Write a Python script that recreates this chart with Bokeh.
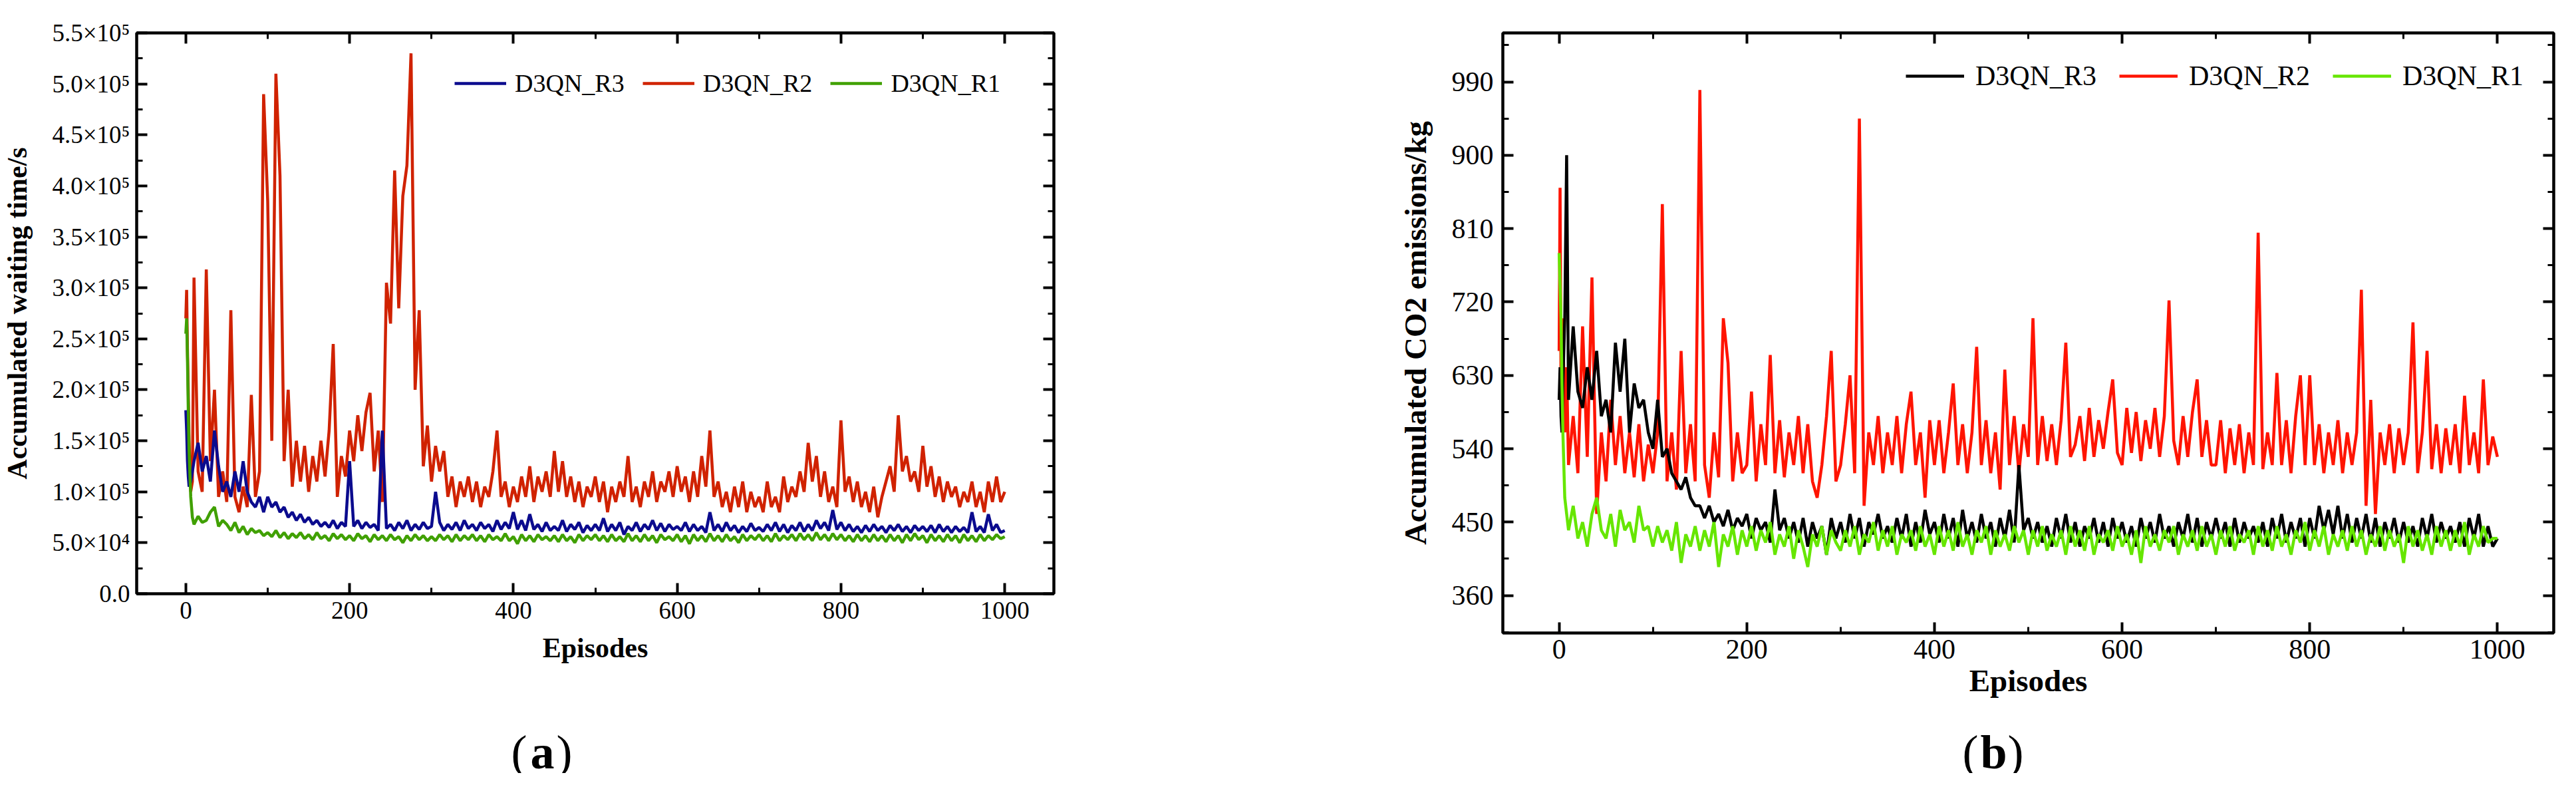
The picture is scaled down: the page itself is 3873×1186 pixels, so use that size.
import numpy as np
from bokeh.plotting import figure
from bokeh.layouts import row, column
from bokeh.models import (Range1d, LinearAxis, FixedTicker, Legend, LegendItem,
                          Label, CustomJSTickFormatter)
from bokeh.embed import file_html
from bokeh.resources import INLINE

FONT = "Liberation Serif"

# ---------------- data ----------------
episodes = [0, 1, 2, 3, 4, 6, 8, 10, 15, 20, 25, 30, 35, 40, 45] + list(range(50, 1001, 5))

# (a) accumulated waiting time, thousands of seconds
wait_r3_k = [180, 160, 130, 115, 105, 110, 120, 130, 148, 120, 135, 110, 160, 125, 100,
             110, 95, 120, 100, 130, 100, 90, 85, 95, 80,
             95, 85, 90, 80, 85, 75, 80, 72, 78, 70,
             75, 68, 72, 66, 70, 65, 72, 64, 70, 66,
             130, 66, 72, 64, 70, 65, 68, 62, 160, 64,
             68, 62, 70, 64, 72, 62, 68, 63, 70, 64,
             66, 100, 70, 62, 68, 63, 70, 62, 72, 64,
             68, 62, 70, 64, 68, 61, 72, 63, 70, 64,
             80, 63, 72, 62, 78, 63, 68, 61, 70, 62,
             66, 62, 72, 61, 68, 63, 70, 60, 67, 62,
             68, 62, 74, 61, 68, 62, 70, 58, 66, 62,
             70, 61, 68, 63, 72, 62, 69, 61, 68, 63,
             66, 62, 70, 61, 68, 62, 66, 60, 80, 62,
             68, 61, 70, 62, 67, 60, 66, 61, 69, 62,
             65, 61, 68, 62, 70, 61, 68, 60, 67, 62,
             70, 61, 68, 62, 72, 64, 70, 62, 82, 63,
             70, 62, 68, 61, 66, 60, 67, 61, 68, 62,
             66, 60, 67, 62, 68, 61, 66, 60, 67, 62,
             66, 61, 67, 60, 68, 61, 66, 60, 66, 61,
             65, 60, 80, 61, 66, 60, 78, 62, 68, 60,
             62]
wait_r2_k = [270, 298, 240, 200, 150, 100, 110, 310, 120, 100, 318, 130, 200, 95, 120,
             90, 278, 95, 80, 105, 85, 195, 95, 120, 490,
             385, 150, 510, 410, 130, 200, 105, 150, 110, 145,
             100, 135, 110, 150, 115, 160, 245, 95, 135, 115,
             160, 130, 175, 140, 178, 197, 120, 160, 90, 305,
             265, 415, 280, 390, 420, 530, 200, 278, 125, 165,
             110, 145, 120, 140, 95, 115, 85, 110, 95, 115,
             90, 110, 85, 105, 95, 120, 160, 95, 110, 85,
             105, 90, 115, 95, 125, 90, 115, 100, 120, 95,
             140, 100, 130, 95, 115, 90, 110, 85, 105, 95,
             115, 90, 110, 80, 105, 90, 110, 95, 135, 90,
             105, 85, 110, 95, 120, 90, 110, 100, 120, 95,
             125, 100, 115, 90, 120, 95, 135, 105, 160, 95,
             110, 85, 100, 80, 105, 85, 110, 80, 100, 85,
             95, 80, 110, 85, 95, 80, 115, 90, 105, 95,
             120, 100, 148, 110, 135, 95, 120, 90, 105, 85,
             170, 100, 115, 90, 110, 85, 100, 80, 105, 75,
             95, 110, 125, 100, 175, 120, 135, 110, 120, 100,
             145, 105, 125, 95, 115, 90, 110, 95, 105, 85,
             100, 90, 110, 85, 100, 80, 110, 90, 115, 90,
             100]
wait_r1_k = [255, 270, 230, 180, 140, 95, 75, 68, 76, 70, 72, 80, 85, 66, 72,
             68, 62, 70, 60, 66, 58, 64, 60, 62, 57,
             60, 56, 62, 55, 60, 54, 59, 55, 60, 54,
             58, 53, 60, 54, 57, 52, 59, 54, 58, 53,
             57, 52, 59, 54, 57, 51, 58, 53, 57, 52,
             58, 53, 56, 50, 57, 52, 58, 53, 57, 52,
             56, 52, 58, 53, 57, 51, 58, 52, 57, 53,
             58, 52, 57, 51, 58, 53, 56, 52, 59, 52,
             56, 49, 58, 52, 57, 51, 58, 53, 56, 52,
             57, 51, 58, 52, 56, 50, 58, 52, 57, 53,
             58, 52, 57, 51, 58, 52, 56, 51, 59, 52,
             57, 51, 58, 52, 57, 50, 58, 53, 56, 52,
             58, 51, 57, 49, 58, 52, 57, 51, 59, 52,
             57, 51, 58, 52, 56, 50, 58, 52, 57, 53,
             58, 52, 57, 51, 59, 52, 57, 53, 58, 52,
             59, 53, 58, 52, 60, 53, 58, 52, 59, 53,
             58, 52, 57, 51, 58, 52, 57, 51, 58, 52,
             57, 51, 58, 52, 57, 50, 58, 52, 59, 53,
             57, 50, 58, 52, 57, 51, 58, 52, 57, 50,
             58, 52, 57, 51, 58, 52, 57, 53, 58, 54,
             56]

# (b) accumulated CO2 emissions, kg
co2_r3 = [600, 640, 580, 560, 620, 700, 900, 600, 690, 610, 590, 640, 600, 660, 580,
          600, 560, 670, 610, 675, 560, 620, 590, 600, 560,
          540, 600, 530, 540, 510, 500, 490, 505, 480, 470,
          470, 455, 470, 450, 460, 445, 465, 440, 455, 445,
          460, 430, 455, 440, 450, 425, 490, 440, 455, 430,
          450, 425, 455, 420, 450, 430, 445, 410, 455, 430,
          450, 425, 460, 430, 455, 420, 450, 435, 460, 430,
          445, 425, 455, 430, 460, 420, 450, 425, 465, 435,
          450, 425, 460, 430, 455, 420, 465, 430, 450, 425,
          460, 430, 450, 420, 455, 430, 465, 425, 520, 440,
          455, 430, 450, 425, 445, 420, 455, 430, 460, 425,
          450, 420, 445, 430, 455, 425, 450, 420, 455, 430,
          450, 425, 445, 420, 455, 430, 450, 425, 460, 430,
          445, 420, 450, 430, 460, 425, 455, 420, 450, 430,
          455, 430, 450, 420, 455, 425, 450, 430, 445, 425,
          450, 420, 455, 430, 460, 425, 450, 430, 455, 420,
          455, 430, 470, 440, 465, 435, 470, 430, 460, 425,
          455, 430, 460, 425, 455, 420, 450, 430, 455, 425,
          450, 425, 445, 420, 455, 430, 460, 425, 450, 430,
          445, 425, 450, 420, 455, 430, 460, 420, 445, 420,
          430]
co2_r2 = [660, 860, 620, 600, 700, 560, 640, 520, 580, 510, 690, 530, 750, 460, 560,
          500, 600, 520, 580, 510, 560, 505, 570, 500, 545,
          510, 560, 840, 500, 560, 490, 660, 510, 570, 500,
          980, 520, 480, 560, 505, 700, 645, 500, 560, 510,
          520, 610, 500, 570, 520, 655, 510, 575, 505, 560,
          520, 580, 510, 570, 500, 480, 520, 580, 660, 500,
          520, 570, 630, 510, 945, 470, 560, 520, 580, 510,
          560, 520, 580, 510, 570, 610, 520, 560, 480, 575,
          520, 575, 510, 560, 620, 520, 570, 510, 560, 665,
          520, 575, 510, 560, 490, 637, 520, 580, 510, 570,
          530, 700, 520, 580, 525, 570, 520, 575, 670, 530,
          545, 580, 525, 590, 530, 575, 540, 585, 625, 535,
          520, 590, 535, 585, 525, 575, 540, 590, 530, 580,
          722, 550, 520, 580, 530, 585, 625, 530, 575, 520,
          520, 575, 510, 565, 520, 570, 510, 560, 520, 805,
          515, 560, 520, 633, 520, 575, 510, 580, 630, 520,
          630, 520, 570, 510, 560, 520, 575, 510, 560, 520,
          560, 735, 470, 600, 460, 560, 520, 570, 510, 565,
          520, 560, 695, 510, 560, 660, 515, 570, 510, 565,
          520, 570, 510, 605, 520, 560, 510, 625, 520, 555,
          530]
co2_r1 = [780, 740, 700, 620, 560, 480, 460, 440, 470, 430, 450, 420, 460, 480, 440,
          430, 460, 420, 465, 440, 450, 425, 470, 440, 445,
          420, 445, 425, 440, 415, 450, 400, 435, 420, 445,
          415, 440, 420, 450, 395, 435, 420, 445, 410, 440,
          420, 445, 415, 440, 425, 450, 410, 435, 420, 445,
          405, 440, 420, 395, 435, 420, 445, 410, 440, 425,
          415, 440, 420, 445, 410, 435, 425, 450, 415, 440,
          420, 445, 410, 435, 425, 440, 415, 445, 420, 435,
          410, 445, 420, 440, 415, 450, 420, 435, 410, 440,
          425, 445, 410, 440, 420, 435, 415, 445, 425, 440,
          410, 440, 420, 445, 415, 435, 420, 440, 410, 445,
          420, 440, 415, 445, 410, 435, 425, 440, 415, 445,
          420, 435, 410, 440, 400, 445, 420, 435, 415, 440,
          425, 445, 410, 435, 420, 440, 415, 445, 420, 435,
          410, 440, 420, 445, 415, 435, 425, 440, 410, 445,
          420, 440, 415, 445, 420, 435, 410, 440, 425, 450,
          415, 440, 420, 445, 410, 435, 420, 440, 415, 445,
          420, 440, 410, 435, 420, 445, 415, 440, 420, 435,
          400, 445, 420, 440, 415, 435, 410, 445, 420, 440,
          415, 440, 420, 450, 410, 435, 420, 445, 425, 430,
          430]

labels = ["D3QN_R3", "D3QN_R2", "D3QN_R1"]
captions = ["a", "b"]
x_ticks = [0, 200, 400, 600, 800, 1000]
x_minor = [100, 300, 500, 700, 900]
wait_ticks = [0, 50000, 100000, 150000, 200000, 250000, 300000, 350000,
              400000, 450000, 500000, 550000]
wait_tick_labels = ["0.0", "5.0×10⁴", "1.0×10⁵", "1.5×10⁵", "2.0×10⁵", "2.5×10⁵",
                    "3.0×10⁵", "3.5×10⁵", "4.0×10⁵", "4.5×10⁵", "5.0×10⁵", "5.5×10⁵"]
wait_minor = [25000 + 50000 * i for i in range(11)]
co2_ticks = [360, 450, 540, 630, 720, 810, 900, 990]
co2_minor = [315, 405, 495, 585, 675, 765, 855, 945, 1035]

colors_a = ["#0B0B8E", "#D02200", "#40A000"]
colors_b = ["#000000", "#FF1400", "#66E600"]

W_A, W_B = 1692, 2165      # figure widths (a), (b)
TOP_H = 1062               # height of the chart row
CAP_H = 100                # height of the caption row


def trim(x, y):
    n = min(len(x), len(y))
    return np.array(x[:n], dtype=float), np.array(y[:n], dtype=float)


def tick_style(ax):
    ax.axis_line_width = 4
    ax.major_tick_line_width = 4
    ax.minor_tick_line_width = 3
    ax.major_tick_in = 16
    ax.major_tick_out = 0
    ax.minor_tick_in = 9
    ax.minor_tick_out = 0


def style(p, yt, ym, tick_size, label_size, ylabel_standoff, xlabel_standoff,
          xtick_standoff, ytick_standoff):
    p.xgrid.visible = False
    p.ygrid.visible = False
    p.outline_line_color = "black"
    p.outline_line_width = 4
    p.background_fill_color = "white"
    p.border_fill_color = "white"
    xa, ya = p.xaxis[0], p.yaxis[0]
    xa.ticker = FixedTicker(ticks=x_ticks, minor_ticks=x_minor)
    ya.ticker = FixedTicker(ticks=yt, minor_ticks=ym)
    for ax in (xa, ya):
        tick_style(ax)
        ax.major_label_text_font = FONT
        ax.major_label_text_font_size = tick_size
        ax.major_label_text_color = "black"
        ax.axis_label_text_font = FONT
        ax.axis_label_text_font_size = label_size
        ax.axis_label_text_font_style = "bold"
        ax.axis_label_text_color = "black"
    xa.axis_label_standoff = xlabel_standoff
    ya.axis_label_standoff = ylabel_standoff
    xa.major_label_standoff = xtick_standoff
    ya.major_label_standoff = ytick_standoff
    # mirrored axes (ticks only)
    for loc, tk in (("above", FixedTicker(ticks=x_ticks, minor_ticks=x_minor)),
                    ("right", FixedTicker(ticks=yt, minor_ticks=ym))):
        ax = LinearAxis(ticker=tk, formatter=CustomJSTickFormatter(code="return '';"))
        tick_style(ax)
        ax.major_label_standoff = 0
        ax.major_label_text_font_size = "1px"
        ax.axis_label_standoff = 0
        ax.axis_label_text_font_size = "1px"
        p.add_layout(ax, loc)


def add_lines(p, series, colors, lw):
    rends = {}
    # draw R2 first, then R3, then R1 on top
    for idx in (1, 0, 2):
        x, y = trim(episodes, series[idx])
        rends[idx] = p.line(x, y, line_color=colors[idx], line_width=lw)
    return [rends[0], rends[1], rends[2]]


def add_legend(p, rends, loc, size, glyph_w, standoff, spacing, h):
    leg = Legend(items=[LegendItem(label=labels[i], renderers=[rends[i]]) for i in range(3)],
                 orientation="horizontal", location=loc, glyph_width=glyph_w,
                 glyph_height=h, label_height=h, label_standoff=standoff,
                 spacing=spacing, padding=0, margin=0,
                 border_line_color=None, background_fill_alpha=0,
                 label_text_font=FONT, label_text_font_size=size,
                 label_text_color="black", label_text_baseline="middle")
    p.add_layout(leg)


def caption_fig(width, xc, letter):
    c = figure(title=None, frame_width=width, frame_height=CAP_H, min_border=0,
               x_range=Range1d(0, width), y_range=Range1d(0, CAP_H),
               x_axis_location=None, y_axis_location=None,
               output_backend="svg", toolbar_location=None)
    c.xgrid.visible = False
    c.ygrid.visible = False
    c.outline_line_color = None
    c.background_fill_color = "white"
    c.border_fill_color = "white"
    common = dict(x=xc, y=32, text_font=FONT, text_font_size="72px",
                  text_baseline="alphabetic", text_color="black")
    c.add_layout(Label(text="(", text_align="right", x_offset=-23, **common))
    c.add_layout(Label(text=letter, text_align="center", text_font_style="bold", **common))
    c.add_layout(Label(text=")", text_align="left", x_offset=21, **common))
    return c


# ---------------- (a) ----------------
pa = figure(title=None, frame_width=1379, frame_height=843, min_border_left=200,
            min_border_right=113, min_border_top=49, min_border_bottom=TOP_H - 49 - 843,
            x_range=Range1d(-60, 1060), y_range=Range1d(0, 550000),
            output_backend="svg", toolbar_location=None,
            x_axis_label="Episodes", y_axis_label="Accumulated waiting time/s")
style(pa, wait_ticks, wait_minor, "37px", "42px", 26, 18, 12, 10)
pa.yaxis[0].major_label_overrides = {t: s for t, s in zip(wait_ticks, wait_tick_labels)}
wait_series = [list(np.array(wait_r3_k) * 1000), list(np.array(wait_r2_k) * 1000),
               list(np.array(wait_r1_k) * 1000)]
ra = add_lines(pa, wait_series, colors_a, 4.5)
add_legend(pa, ra, (478, 745), "38px", 78, 13, 27, 44)

# ---------------- (b) ----------------
pb = figure(title=None, frame_width=1580, frame_height=902, min_border_left=562,
            min_border_right=23, min_border_top=12, min_border_bottom=TOP_H - 12 - 902,
            x_range=Range1d(-60, 1060), y_range=Range1d(314, 1050),
            output_backend="svg", toolbar_location=None,
            x_axis_label="Episodes", y_axis_label="Accumulated CO2 emissions/kg")
style(pb, co2_ticks, co2_minor, "42px", "47px", 26, 4, 10, 14)
rb = add_lines(pb, [co2_r3, co2_r2, co2_r1], colors_b, 4.5)
add_legend(pb, rb, (606, 813), "42px", 88, 17, 34, 48)

ca = caption_fig(W_A, 815, captions[0])
cb = caption_fig(W_B, 1305, captions[1])

layout = column(row(pa, pb, spacing=0), row(ca, cb, spacing=0), spacing=0)
open("out.html", "w").write(file_html(layout, INLINE))
